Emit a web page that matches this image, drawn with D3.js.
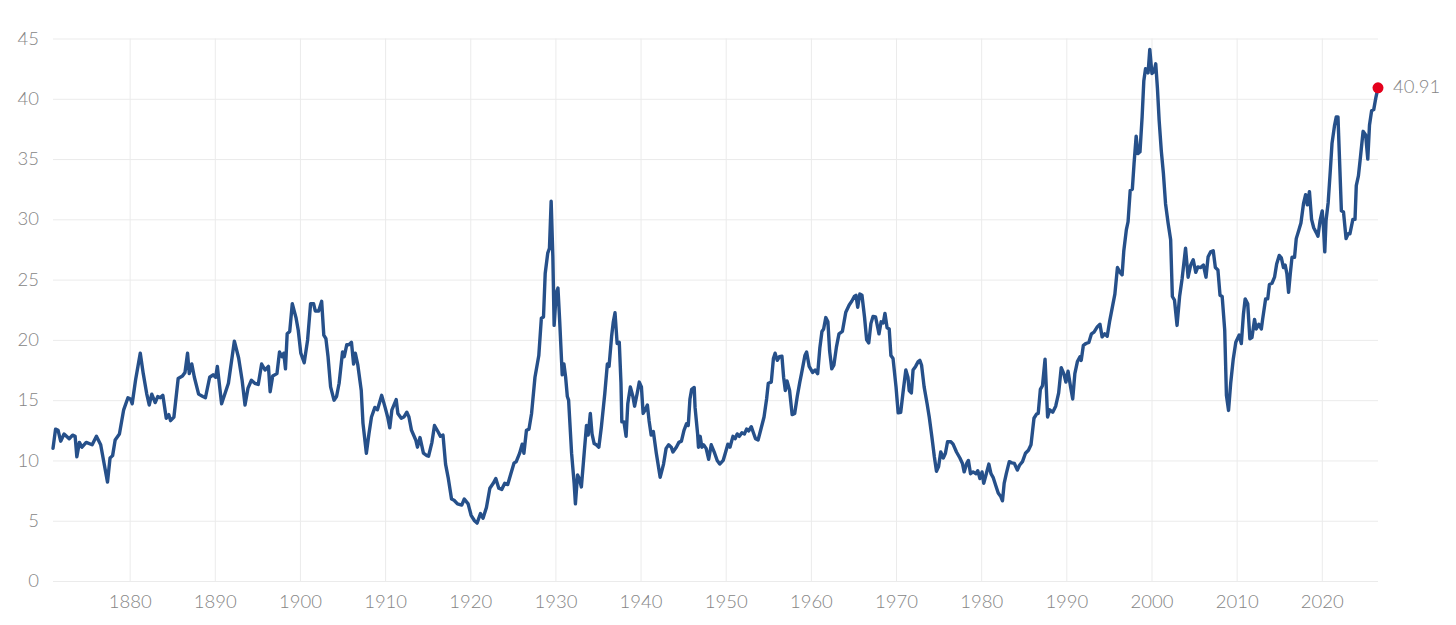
<!DOCTYPE html>
<html>
<head>
<meta charset="utf-8">
<script src="https://cdn.jsdelivr.net/npm/d3@7"></script>
<style>
  body { margin: 0; background: #fff; }
  svg { display: block; }
</style>
</head>
<body>
<svg id="chart"></svg>
<script>
// CAPE readings, fractional year -> value
let years = [
  1871.0, 1871.3, 1871.6, 1871.9, 1872.3, 1872.9, 1873.3, 1873.6, 1873.8, 1874.1,
  1874.4, 1874.9, 1875.6, 1876.1, 1876.6, 1877.0, 1877.4, 1877.7, 1878.0, 1878.3,
  1878.8, 1879.3, 1879.8, 1880.1, 1880.3, 1880.7, 1881.25, 1881.6, 1882.0, 1882.3,
  1882.6, 1883.0, 1883.3, 1883.6, 1883.9, 1884.3, 1884.6, 1884.8, 1885.2, 1885.7,
  1886.2, 1886.5, 1886.8, 1887.0, 1887.3, 1887.6, 1888.1, 1888.6, 1888.9, 1889.4,
  1889.8, 1890.1, 1890.3, 1890.8, 1891.2, 1891.6, 1892.3, 1892.8, 1893.2, 1893.55,
  1893.9, 1894.3, 1894.7, 1895.1, 1895.5, 1895.9, 1896.3, 1896.5, 1896.8, 1897.3,
  1897.6, 1897.9, 1898.1, 1898.3, 1898.5, 1898.8, 1899.1, 1899.55, 1899.8, 1900.1,
  1900.5, 1900.9, 1901.25, 1901.6, 1901.8, 1902.2, 1902.55, 1902.8, 1903.05, 1903.3,
  1903.6, 1904.0, 1904.3, 1904.6, 1905.0, 1905.2, 1905.5, 1905.75, 1906.05, 1906.3,
  1906.5, 1906.8, 1907.2, 1907.4, 1907.8, 1908.1, 1908.4, 1908.8, 1909.1, 1909.6,
  1910.0, 1910.3, 1910.55, 1910.8, 1911.3, 1911.5, 1911.9, 1912.2, 1912.55, 1912.8,
  1913.1, 1913.6, 1913.8, 1914.1, 1914.5, 1914.9, 1915.1, 1915.5, 1915.8, 1916.2,
  1916.5, 1916.8, 1917.1, 1917.4, 1917.8, 1918.1, 1918.5, 1919.0, 1919.3, 1919.75,
  1920.1, 1920.5, 1920.8, 1921.2, 1921.5, 1921.9, 1922.3, 1922.7, 1923.0, 1923.35,
  1923.7, 1924.05, 1924.4, 1924.75, 1925.15, 1925.4, 1925.8, 1926.1, 1926.3, 1926.6,
  1926.9, 1927.2, 1927.6, 1928.05, 1928.35, 1928.6, 1928.8, 1929.1, 1929.3, 1929.5,
  1929.7, 1929.85, 1930.1, 1930.3, 1930.5, 1930.8, 1931.0, 1931.2, 1931.4, 1931.55,
  1931.9, 1932.2, 1932.35, 1932.6, 1932.8, 1933.05, 1933.4, 1933.65, 1933.85, 1934.1,
  1934.3, 1934.55, 1934.8, 1935.1, 1935.4, 1935.8, 1936.1, 1936.3, 1936.6, 1936.8,
  1937.0, 1937.25, 1937.5, 1937.7, 1937.8, 1938.05, 1938.3, 1938.5, 1938.8, 1939.1,
  1939.3, 1939.6, 1939.85, 1940.1, 1940.3, 1940.55, 1940.8, 1941.0, 1941.25, 1941.5,
  1941.85, 1942.3, 1942.7, 1943.0, 1943.3, 1943.6, 1943.8, 1944.2, 1944.5, 1944.8,
  1945.1, 1945.4, 1945.6, 1945.8, 1946.0, 1946.3, 1946.4, 1946.7, 1946.8, 1947.0,
  1947.2, 1947.4, 1947.7, 1948.0, 1948.3, 1948.7, 1949.0, 1949.3, 1949.7, 1949.95,
  1950.25, 1950.5, 1950.85, 1951.1, 1951.35, 1951.6, 1951.9, 1952.2, 1952.45, 1952.7,
  1953.0, 1953.2, 1953.5, 1953.8, 1954.1, 1954.5, 1954.8, 1955.0, 1955.35, 1955.6,
  1955.8, 1956.05, 1956.3, 1956.6, 1956.8, 1957.0, 1957.2, 1957.5, 1957.8, 1958.1,
  1958.4, 1958.7, 1958.9, 1959.3, 1959.5, 1959.8, 1960.2, 1960.5, 1960.8, 1961.05,
  1961.3, 1961.5, 1961.75, 1962.0, 1962.2, 1962.45, 1962.7, 1963.0, 1963.3, 1963.7,
  1964.1, 1964.5, 1964.8, 1965.1, 1965.3, 1965.5, 1965.75, 1966.0, 1966.3, 1966.55,
  1966.8, 1967.05, 1967.3, 1967.6, 1968.0, 1968.25, 1968.5, 1968.7, 1968.95, 1969.2,
  1969.4, 1969.65, 1970.0, 1970.25, 1970.55, 1970.85, 1971.15, 1971.4, 1971.55, 1971.8,
  1972.0, 1972.3, 1972.6, 1972.8, 1973.0, 1973.3, 1973.65, 1973.9, 1974.2, 1974.5,
  1974.75, 1975.0, 1975.25, 1975.55, 1975.8, 1976.05, 1976.45, 1976.7, 1977.1, 1977.5,
  1977.8, 1978.0, 1978.3, 1978.5, 1978.75, 1979.05, 1979.4, 1979.6, 1979.85, 1980.1,
  1980.3, 1980.6, 1980.9, 1981.15, 1981.4, 1981.7, 1982.0, 1982.3, 1982.5, 1982.7,
  1982.95, 1983.3, 1983.6, 1983.9, 1984.25, 1984.5, 1984.85, 1985.2, 1985.55, 1985.85,
  1986.2, 1986.5, 1986.7, 1986.95, 1987.2, 1987.5, 1987.8, 1988.05, 1988.4, 1988.75,
  1989.1, 1989.4, 1989.7, 1989.95, 1990.2, 1990.5, 1990.75, 1991.0, 1991.3, 1991.6,
  1991.75, 1992.0, 1992.3, 1992.65, 1992.95, 1993.25, 1993.65, 1993.95, 1994.2, 1994.5,
  1994.8, 1995.1, 1995.4, 1995.7, 1996.0, 1996.3, 1996.55, 1996.75, 1997.05, 1997.25,
  1997.5, 1997.75, 1997.95, 1998.2, 1998.4, 1998.65, 1998.9, 1999.1, 1999.3, 1999.6,
  1999.8, 2000.05, 2000.3, 2000.5, 2000.7, 2000.9, 2001.15, 2001.4, 2001.65, 2001.95,
  2002.25, 2002.45, 2002.7, 2003.0, 2003.3, 2003.6, 2004.0, 2004.3, 2004.6, 2004.9,
  2005.2, 2005.45, 2005.75, 2006.1, 2006.4, 2006.65, 2006.95, 2007.25, 2007.5, 2007.8,
  2008.05, 2008.3, 2008.6, 2008.8, 2009.05, 2009.3, 2009.6, 2009.9, 2010.3, 2010.55,
  2010.8, 2011.0, 2011.3, 2011.55, 2011.8, 2012.1, 2012.3, 2012.6, 2012.9, 2013.05,
  2013.4, 2013.65, 2013.85, 2014.15, 2014.45, 2014.7, 2015.0, 2015.25, 2015.5, 2015.7,
  2015.9, 2016.1, 2016.3, 2016.5, 2016.8, 2017.0, 2017.3, 2017.55, 2017.85, 2018.1,
  2018.3, 2018.55, 2018.8, 2019.05, 2019.35, 2019.55, 2019.8, 2020.05, 2020.2, 2020.35,
  2020.5, 2020.75, 2021.0, 2021.2, 2021.5, 2021.7, 2021.9, 2022.1, 2022.3, 2022.55,
  2022.85, 2023.1, 2023.3, 2023.65, 2023.9, 2024.05, 2024.3, 2024.5, 2024.85, 2025.15,
  2025.4, 2025.6, 2025.85, 2026.1, 2026.35, 2026.6
];

let cape = [
  11.0, 12.6, 12.5, 11.6, 12.2, 11.8, 12.1, 12.0, 10.3, 11.5,
  11.1, 11.5, 11.3, 12.0, 11.3, 9.75, 8.2, 10.2, 10.4, 11.7,
  12.2, 14.2, 15.2, 15.1, 14.7, 16.7, 18.9, 17.2, 15.55, 14.6,
  15.5, 14.8, 15.3, 15.2, 15.4, 13.5, 13.8, 13.3, 13.6, 16.8,
  17.0, 17.3, 18.9, 17.2, 18.0, 16.9, 15.5, 15.3, 15.2, 16.9,
  17.1, 16.9, 17.8, 14.7, 15.55, 16.4, 19.9, 18.5, 16.7, 14.6,
  16.0, 16.65, 16.4, 16.3, 18.0, 17.5, 17.8, 15.7, 17.0, 17.2,
  19.0, 18.6, 18.9, 17.6, 20.5, 20.7, 23.0, 21.8, 20.8, 18.9,
  18.1, 20.0, 23.0, 23.0, 22.4, 22.4, 23.2, 20.4, 20.1, 18.6,
  16.1, 15.0, 15.3, 16.4, 19.0, 18.6, 19.6, 19.6, 19.8, 18.0,
  18.9, 17.9, 15.8, 13.1, 10.6, 12.2, 13.6, 14.4, 14.2, 15.4,
  14.4, 13.6, 12.7, 14.2, 15.05, 13.9, 13.5, 13.6, 14.0, 13.6,
  12.5, 11.7, 11.1, 11.9, 10.6, 10.4, 10.35, 11.5, 12.9, 12.4,
  12.0, 12.1, 9.7, 8.6, 6.8, 6.7, 6.4, 6.3, 6.8, 6.4,
  5.45, 5.0, 4.8, 5.6, 5.2, 6.1, 7.7, 8.1, 8.5, 7.7,
  7.6, 8.1, 8.0, 8.85, 9.8, 9.9, 10.6, 11.35, 10.6, 12.5,
  12.6, 13.9, 16.9, 18.7, 21.8, 21.9, 25.5, 27.2, 27.6, 31.5,
  26.9, 21.2, 23.9, 24.3, 21.6, 17.1, 18.0, 16.9, 15.3, 15.0,
  10.6, 8.1, 6.4, 8.8, 8.5, 7.8, 10.8, 12.9, 12.1, 13.9,
  12.2, 11.4, 11.3, 11.1, 12.8, 15.55, 18.0, 17.8, 20.3, 21.5,
  22.25, 19.7, 19.8, 16.4, 13.2, 13.2, 12.0, 14.7, 16.1, 15.3,
  14.5, 15.55, 16.5, 16.1, 13.9, 14.2, 14.6, 13.3, 12.1, 12.4,
  10.6, 8.6, 9.7, 11.0, 11.3, 11.1, 10.7, 11.1, 11.5, 11.6,
  12.5, 13.05, 12.9, 15.1, 15.9, 16.05, 14.4, 12.2, 11.1, 12.0,
  11.1, 11.3, 11.0, 10.1, 11.3, 10.6, 10.0, 9.7, 10.0, 10.6,
  11.35, 11.1, 12.0, 11.8, 12.2, 12.0, 12.3, 12.2, 12.6, 12.45,
  12.8, 12.4, 11.8, 11.7, 12.5, 13.6, 15.1, 16.4, 16.5, 18.45,
  18.9, 18.3, 18.6, 18.65, 16.9, 15.8, 16.6, 15.8, 13.8, 13.9,
  15.3, 16.5, 17.2, 18.7, 19.0, 17.8, 17.3, 17.5, 17.2, 19.3,
  20.7, 20.9, 21.85, 21.5, 19.1, 17.6, 17.9, 19.4, 20.5, 20.7,
  22.3, 22.9, 23.2, 23.6, 23.7, 22.7, 23.8, 23.7, 21.9, 20.0,
  19.75, 21.35, 21.95, 21.9, 20.5, 21.5, 21.4, 22.2, 21.0, 20.9,
  18.7, 18.45, 16.1, 13.95, 14.0, 15.8, 17.5, 16.9, 15.8, 15.6,
  17.5, 17.8, 18.2, 18.3, 17.9, 16.1, 14.7, 13.6, 12.0, 10.3,
  9.1, 9.5, 10.7, 10.2, 10.6, 11.55, 11.55, 11.35, 10.7, 10.2,
  9.75, 9.05, 9.75, 10.0, 8.9, 9.05, 8.9, 9.15, 8.5, 9.05,
  8.1, 8.9, 9.7, 8.9, 8.6, 7.95, 7.3, 7.0, 6.65, 8.1,
  8.9, 9.9, 9.8, 9.75, 9.2, 9.6, 9.9, 10.6, 10.85, 11.3,
  13.5, 13.85, 13.9, 15.9, 16.2, 18.4, 13.6, 14.2, 14.0, 14.5,
  15.6, 17.7, 17.2, 16.5, 17.4, 16.1, 15.1, 17.2, 18.2, 18.6,
  18.3, 19.55, 19.7, 19.8, 20.5, 20.65, 21.1, 21.3, 20.25, 20.5,
  20.3, 21.6, 22.7, 23.8, 26.0, 25.6, 25.4, 27.4, 29.15, 29.8,
  32.4, 32.5, 34.6, 36.9, 35.45, 35.6, 38.5, 41.5, 42.5, 42.15,
  44.1, 42.1, 42.25, 42.9, 40.85, 38.2, 35.7, 33.8, 31.3, 29.7,
  28.3, 23.6, 23.3, 21.2, 23.6, 25.1, 27.6, 25.2, 26.2, 26.65,
  25.6, 26.05, 26.0, 26.2, 25.2, 26.9, 27.3, 27.4, 26.0, 25.8,
  23.7, 23.6, 20.8, 15.4, 14.15, 16.4, 18.4, 19.8, 20.4, 19.7,
  22.15, 23.4, 23.0, 20.1, 20.2, 21.7, 20.9, 21.3, 20.9, 21.7,
  23.4, 23.4, 24.6, 24.7, 25.2, 26.3, 27.0, 26.8, 26.0, 26.2,
  25.5, 23.95, 25.5, 26.85, 26.85, 28.4, 29.1, 29.7, 31.3, 32.05,
  31.2, 32.3, 30.0, 29.3, 28.9, 28.6, 29.9, 30.7, 29.3, 27.3,
  29.9, 31.4, 34.05, 36.3, 37.8, 38.5, 38.5, 34.6, 30.7, 30.6,
  28.4, 28.8, 28.8, 30.0, 30.0, 32.8, 33.6, 34.9, 37.3, 37.0,
  35.0, 37.8, 39.0, 39.1, 40.1, 40.91
];

let xTicks = [1880, 1890, 1900, 1910, 1920, 1930, 1940, 1950, 1960, 1970, 1980, 1990, 2000, 2010, 2020];
let yTicks = [0, 5, 10, 15, 20, 25, 30, 35, 40, 45];

let svgWidth = 1456;
let svgHeight = 625;
let plotLeft = 53, plotRight = 1378, plotTop = 38.5, plotBottom = 581;

let lineColor = "#26508a";
let gridColor = "#ebebeb";
let textColor = "#858585";
let fontFamily = "Lato, 'Open Sans', sans-serif";
let fontSize = 18.5;

let svg = d3.select("#chart")
  .attr("width", svgWidth)
  .attr("height", svgHeight);

let data = years.map((yr, i) => ({ year: yr, value: cape[i] }));

let x = d3.scaleLinear()
  .domain([years[0], years[years.length - 1]])
  .range([plotLeft, plotRight]);
let y = d3.scaleLinear()
  .domain([0, 45])
  .range([plotBottom, plotTop]);

// y axis + horizontal grid
svg.append("g")
  .attr("transform", "translate(" + plotLeft + ",0)")
  .style("font-family", fontFamily)
  .style("font-weight", 300)
  .style("font-size", fontSize)
  .call(d3.axisLeft(y).tickValues(yTicks).tickSize(-(plotRight - plotLeft)).tickPadding(14))
  .call(g => g.select(".domain").remove())
  .call(g => g.selectAll(".tick line").attr("stroke", gridColor))
  .call(g => g.selectAll(".tick text").attr("fill", textColor).attr("dy", "0.3em"));

// x axis + vertical grid
svg.append("g")
  .attr("transform", "translate(0," + plotBottom + ")")
  .style("font-family", fontFamily)
  .style("font-weight", 300)
  .style("font-size", fontSize)
  .call(d3.axisBottom(x).tickValues(xTicks).tickFormat(d3.format("d")).tickSize(-(plotBottom - plotTop)).tickPadding(14))
  .call(g => g.select(".domain").remove())
  .call(g => g.selectAll(".tick line").attr("stroke", gridColor))
  .call(g => g.selectAll(".tick text").attr("fill", textColor));

// CAPE line
let line = d3.line()
  .x(d => x(d.year))
  .y(d => y(d.value));

svg.append("path")
  .datum(data)
  .attr("d", line)
  .attr("fill", "none")
  .attr("stroke", lineColor)
  .attr("stroke-width", 3.4)
  .attr("stroke-linejoin", "round")
  .attr("stroke-linecap", "round");

// latest value marker
let last = data[data.length - 1];
svg.append("circle")
  .attr("cx", x(last.year))
  .attr("cy", y(last.value))
  .attr("r", 5.5)
  .style("fill", "#e4001c");
svg.append("text")
  .attr("x", x(last.year) + 15)
  .attr("y", y(last.value))
  .attr("dy", "0.28em")
  .text(last.value.toFixed(2))
  .style("fill", textColor)
  .style("font-family", fontFamily)
  .style("font-weight", 300)
  .style("font-size", fontSize);
</script>
</body>
</html>
